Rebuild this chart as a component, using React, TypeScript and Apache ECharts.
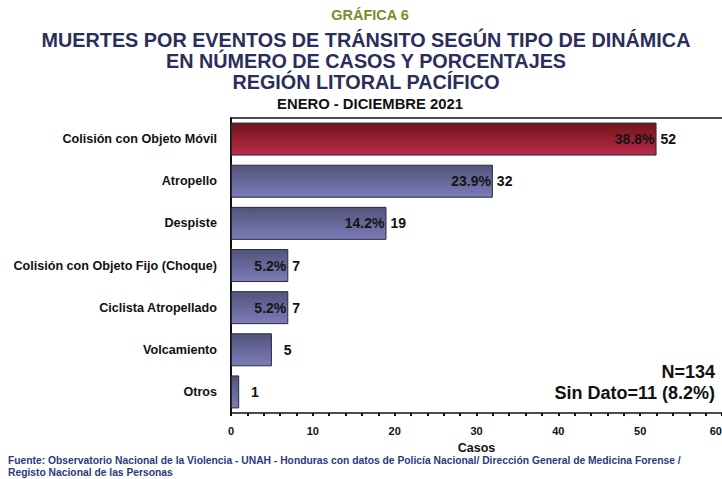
import React, { useEffect, useRef } from "react";
import * as echarts from "echarts";

const categories = [
  "Colisión con Objeto Móvil",
  "Atropello",
  "Despiste",
  "Colisión con Objeto Fijo (Choque)",
  "Ciclista Atropellado",
  "Volcamiento",
  "Otros",
];
const casos = [52, 32, 19, 7, 7, 5, 1];
const porcentajes: (number | null)[] = [38.8, 23.9, 14.2, 5.2, 5.2, null, null];
const xTicks = [0, 10, 20, 30, 40, 50, 60];

const FONT = "'Liberation Sans', Arial, sans-serif";

export default function App() {
  const ref = useRef<HTMLDivElement>(null);
  useEffect(() => {
    if (!ref.current) return;
    const chart = echarts.init(ref.current, null, { renderer: "svg" });
    const redGrad = new echarts.graphic.LinearGradient(0, 0, 0, 1, [
      { offset: 0, color: "#6f1519" },
      { offset: 1, color: "#bb2c4a" },
    ]);
    const blueGrad = new echarts.graphic.LinearGradient(0, 0, 0, 1, [
      { offset: 0, color: "#52537a" },
      { offset: 1, color: "#7c7cba" },
    ]);
    const data = casos.map((v, i) => ({
      value: v,
      itemStyle: { color: i === 0 ? redGrad : blueGrad },
    }));
    chart.setOption({
      animation: false,
      textStyle: { fontFamily: FONT },
      grid: { left: 231, right: 0, top: 118, bottom: 66, containLabel: false, outerBoundsMode: "none" },
      xAxis: [
        {
          type: "value",
          min: xTicks[0],
          max: xTicks[xTicks.length - 1],
          interval: 10,
          position: "bottom",
          name: "Casos",
          nameLocation: "middle",
          nameGap: 28,
          nameTextStyle: { fontFamily: FONT, fontWeight: "bold", fontSize: 12.5, color: "#111" },
          axisLine: { show: true, lineStyle: { color: "#111", width: 1.5 } },
          axisTick: { show: true, length: 3, lineStyle: { color: "#111", width: 2 } },
          minorTick: { show: true, splitNumber: 5, length: 3, lineStyle: { color: "#111", width: 2 } },
          axisLabel: {
            fontFamily: FONT,
            fontWeight: "bold",
            fontSize: 11,
            color: "#111",
            margin: 12,
            hideOverlap: false,
            alignMaxLabel: "right",
          },
          splitLine: { show: false },
        },
        {
          type: "value",
          min: xTicks[0],
          max: xTicks[xTicks.length - 1],
          position: "top",
          axisLine: { show: true, lineStyle: { color: "#111", width: 1.5 } },
          axisTick: { show: false },
          axisLabel: { show: false },
          splitLine: { show: false },
        },
      ],
      yAxis: {
        type: "category",
        data: categories,
        inverse: true,
        axisLine: { show: true, lineStyle: { color: "#111", width: 2 } },
        axisTick: { show: false },
        axisLabel: { fontFamily: FONT, fontWeight: "bold", fontSize: 12.6, color: "#111", margin: 14 },
      },
      series: [
        {
          type: "bar",
          data,
          barWidth: 33,
          itemStyle: { borderColor: "#2a2a38", borderWidth: 1 },
          label: {
            show: true,
            position: "insideRight",
            distance: 2,
            fontFamily: FONT,
            fontWeight: "bold",
            fontSize: 14,
            color: "#151515",
            formatter: (p: any) => {
              const v = porcentajes[p.dataIndex];
              return v == null ? "" : v.toFixed(1) + "%";
            },
          },
        },
        {
          type: "bar",
          data: casos,
          barWidth: 33,
          barGap: "-100%",
          silent: true,
          itemStyle: { color: "transparent" },
          label: {
            show: true,
            position: "right",
            distance: 4,
            fontFamily: FONT,
            fontWeight: "bold",
            fontSize: 14,
            color: "#111",
            formatter: (p: any) => {
              const v = p.value;
              return v < 7 ? "  " + v : String(v);
            },
          },
        },
      ],
      graphic: [
        {
          type: "text",
          x: 370,
          y: 7,
          style: { text: "GRÁFICA 6", font: `bold 14.5px ${FONT}`, fill: "#838a2c", align: "center" },
        },
        {
          type: "text",
          x: 366,
          y: 30,
          style: {
            text: "MUERTES POR EVENTOS DE TRÁNSITO SEGÚN TIPO DE DINÁMICA\nEN NÚMERO DE CASOS Y PORCENTAJES\nREGIÓN LITORAL PACÍFICO",
            font: `bold 19.8px ${FONT}`,
            fill: "#2b2d5a",
            align: "center",
            lineHeight: 20.9,
          },
        },
        {
          type: "text",
          x: 370,
          y: 96,
          style: { text: "ENERO - DICIEMBRE 2021", font: `bold 14.8px ${FONT}`, fill: "#111", align: "center" },
        },
        {
          type: "text",
          x: 715,
          y: 361,
          style: {
            text: "N=134\nSin Dato=11 (8.2%)",
            font: `bold 18px ${FONT}`,
            fill: "#111",
            align: "right",
            lineHeight: 21,
          },
        },
        {
          type: "text",
          x: 8,
          y: 455,
          style: {
            text: "Fuente: Observatorio Nacional de la Violencia - UNAH - Honduras con datos de Policía Nacional/ Dirección General de Medicina Forense /\nRegisto Nacional de las Personas",
            font: `bold 10.3px ${FONT}`,
            fill: "#2b3a7c",
            lineHeight: 11.5,
          },
        },
      ],
    });
    return () => chart.dispose();
  }, []);
  return <div ref={ref} style={{ width: 722, height: 479, position: "absolute", left: 0, top: 0 }} />;
}
